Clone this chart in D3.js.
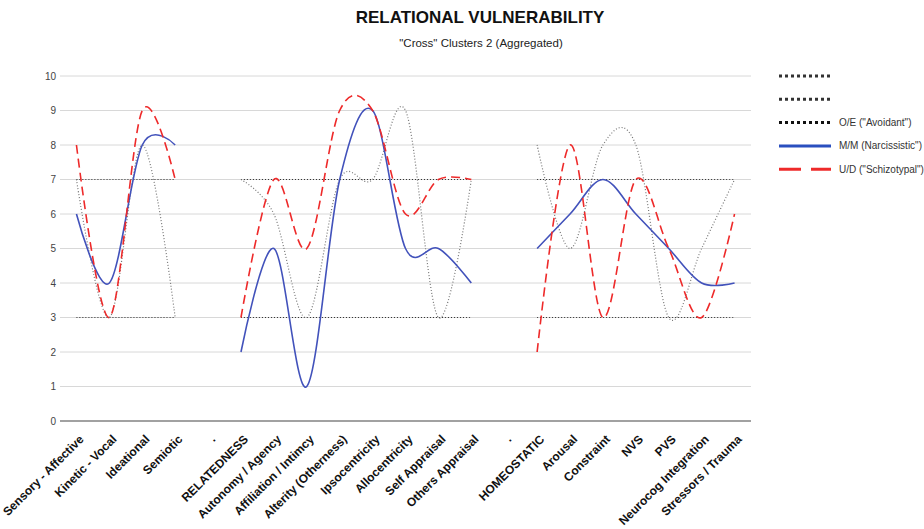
<!DOCTYPE html>
<html>
<head>
<meta charset="utf-8">
<script src="https://cdn.jsdelivr.net/npm/d3@7"></script>
<style>
  body { margin: 0; background: #fff; }
  svg text { font-family: "Liberation Sans", Arial, sans-serif; }
</style>
</head>
<body>
<svg id="chart" width="924" height="529"></svg>
<script>
// categories along the x axis ("." are the spacer columns)
var categories = ["Sensory - Affective", "Kinetic - Vocal", "Ideational", "Semiotic", ".",
	"RELATEDNESS", "Autonomy / Agency", "Affiliation / Intimcy", "Alterity (Otherness)", "Ipsocentricity",
	"Allocentricity", "Self Appraisal", "Others Appraisal", ". ",
	"HOMEOSTATIC", "Arousal", "Constraint", "NVS", "PVS", "Neurocog Integration", "Stressors / Trauma"];

var upperBound = [7, 7, 7, 7, null, 7, 7, 7, 7, 7, 7, 7, 7, null, 7, 7, 7, 7, 7, 7, 7];
var lowerBound = [3, 3, 3, 3, null, 3, 3, 3, 3, 3, 3, 3, 3, null, 3, 3, 3, 3, 3, 3, 3];
var avoidant = [7, 3, 8, 3, null, 7, 6, 3, 7, 7, 9, 3, 7, null, 8, 5, 8, 8, 3, 5, 7];
var narcissistic = [6, 4, 8, 8, null, 2, 5, 1, 7, 9, 5, 5, 4, null, 5, 6, 7, 6, 5, 4, 4];
var schizotypal = [8, 3, 9, 7, null, 3, 7, 5, 9, 9, 6, 7, 7, null, 2, 8, 3, 7, 5, 3, 6];

var yTicks = [0, 1, 2, 3, 4, 5, 6, 7, 8, 9, 10];

var colorBlue = "#4252bb";
var colorRed = "#ee2a2a";

var series = [
	{ name: "", values: upperBound, color: "#333", width: 1.2, dash: "1,2", legendDash: "3,3" },
	{ name: "", values: lowerBound, color: "#333", width: 1.2, dash: "1,2", legendDash: "3,3" },
	{ name: "O/E (\"Avoidant\")", values: avoidant, color: "#777", width: 1.2, dash: "1,2", legendDash: "3,3", legendColor: "#111" },
	{ name: "M/M (Narcissistic\")", values: narcissistic, color: colorBlue, width: 1.6, dash: null, legendDash: null, legendColor: "#2a4fbf" },
	{ name: "U/D (\"Schizotypal\")", values: schizotypal, color: colorRed, width: 1.6, dash: "9,5", legendDash: "22,10" }
];

const svg = d3.select('svg#chart');

const plot = { left: 60, right: 751, top: 76, bottom: 421 };

const x = d3.scaleBand()
	.domain(categories)
	.range([plot.left, plot.right]);

const y = d3.scaleLinear()
	.domain([0, 10])
	.range([plot.bottom, plot.top]);

function cx(c) {
	return x(c) + x.bandwidth() / 2;
}

// Title
svg.append('text')
	.attr('x', 480).attr('y', 23)
	.attr('text-anchor', 'middle')
	.attr('font-size', 17)
	.attr('font-weight', 'bold')
	.attr('fill', '#111')
	.text('RELATIONAL VULNERABILITY');

svg.append('text')
	.attr('x', 481).attr('y', 47)
	.attr('text-anchor', 'middle')
	.attr('font-size', 11.5)
	.attr('fill', '#222')
	.text('"Cross" Clusters 2 (Aggregated)');

// Grid
svg.append('g')
	.selectAll('line')
	.data(yTicks.filter(d => d > 0))
	.enter().append('line')
	.attr('x1', plot.left).attr('x2', plot.right)
	.attr('y1', d => y(d)).attr('y2', d => y(d))
	.attr('stroke', '#d8d8d8')
	.attr('stroke-width', 1);

// Y axis
const yAxis = svg.append('g')
	.attr('transform', 'translate(' + plot.left + ',0)')
	.call(d3.axisLeft(y).tickValues(yTicks).tickSize(0).tickPadding(4));
yAxis.select('.domain').remove();
yAxis.selectAll('text')
	.attr('font-size', 10)
	.attr('fill', '#444');

// baseline
svg.append('line')
	.attr('x1', plot.left).attr('x2', plot.right)
	.attr('y1', y(0)).attr('y2', y(0))
	.attr('stroke', '#444')
	.attr('stroke-width', 1.2);

// X labels
svg.append('g')
	.selectAll('text')
	.data(categories)
	.enter().append('text')
	.attr('transform', d => 'translate(' + (cx(d) + 8) + ',' + (y(0) + 19) + ') rotate(-45)')
	.attr('text-anchor', 'end')
	.attr('font-size', 12)
	.attr('font-weight', 'bold')
	.attr('fill', '#111')
	.text(d => d.trim());

// Lines
const line = d3.line()
	.defined(d => d.v != null)
	.x(d => cx(d.c))
	.y(d => y(d.v))
	.curve(d3.curveCardinal.tension(0));

svg.append('g')
	.selectAll('path')
	.data(series)
	.enter().append('path')
	.attr('d', s => line(categories.map((c, i) => ({ c: c, v: s.values[i] }))))
	.attr('fill', 'none')
	.attr('stroke', s => s.color)
	.attr('stroke-width', s => s.width)
	.attr('stroke-dasharray', s => s.dash);

// Legend
const legend = svg.append('g')
	.selectAll('g')
	.data(series)
	.enter().append('g')
	.attr('transform', (d, i) => 'translate(779,' + (76 + i * 23.3) + ')');

legend.append('line')
	.attr('x1', 0).attr('x2', 52)
	.attr('y1', 0).attr('y2', 0)
	.attr('stroke', d => d.legendColor || d.color)
	.attr('stroke-width', 3)
	.attr('stroke-dasharray', d => d.legendDash);

legend.append('text')
	.attr('x', 60).attr('y', 3.5)
	.attr('font-size', 10)
	.attr('fill', '#333')
	.text(d => d.name);
</script>
</body>
</html>
